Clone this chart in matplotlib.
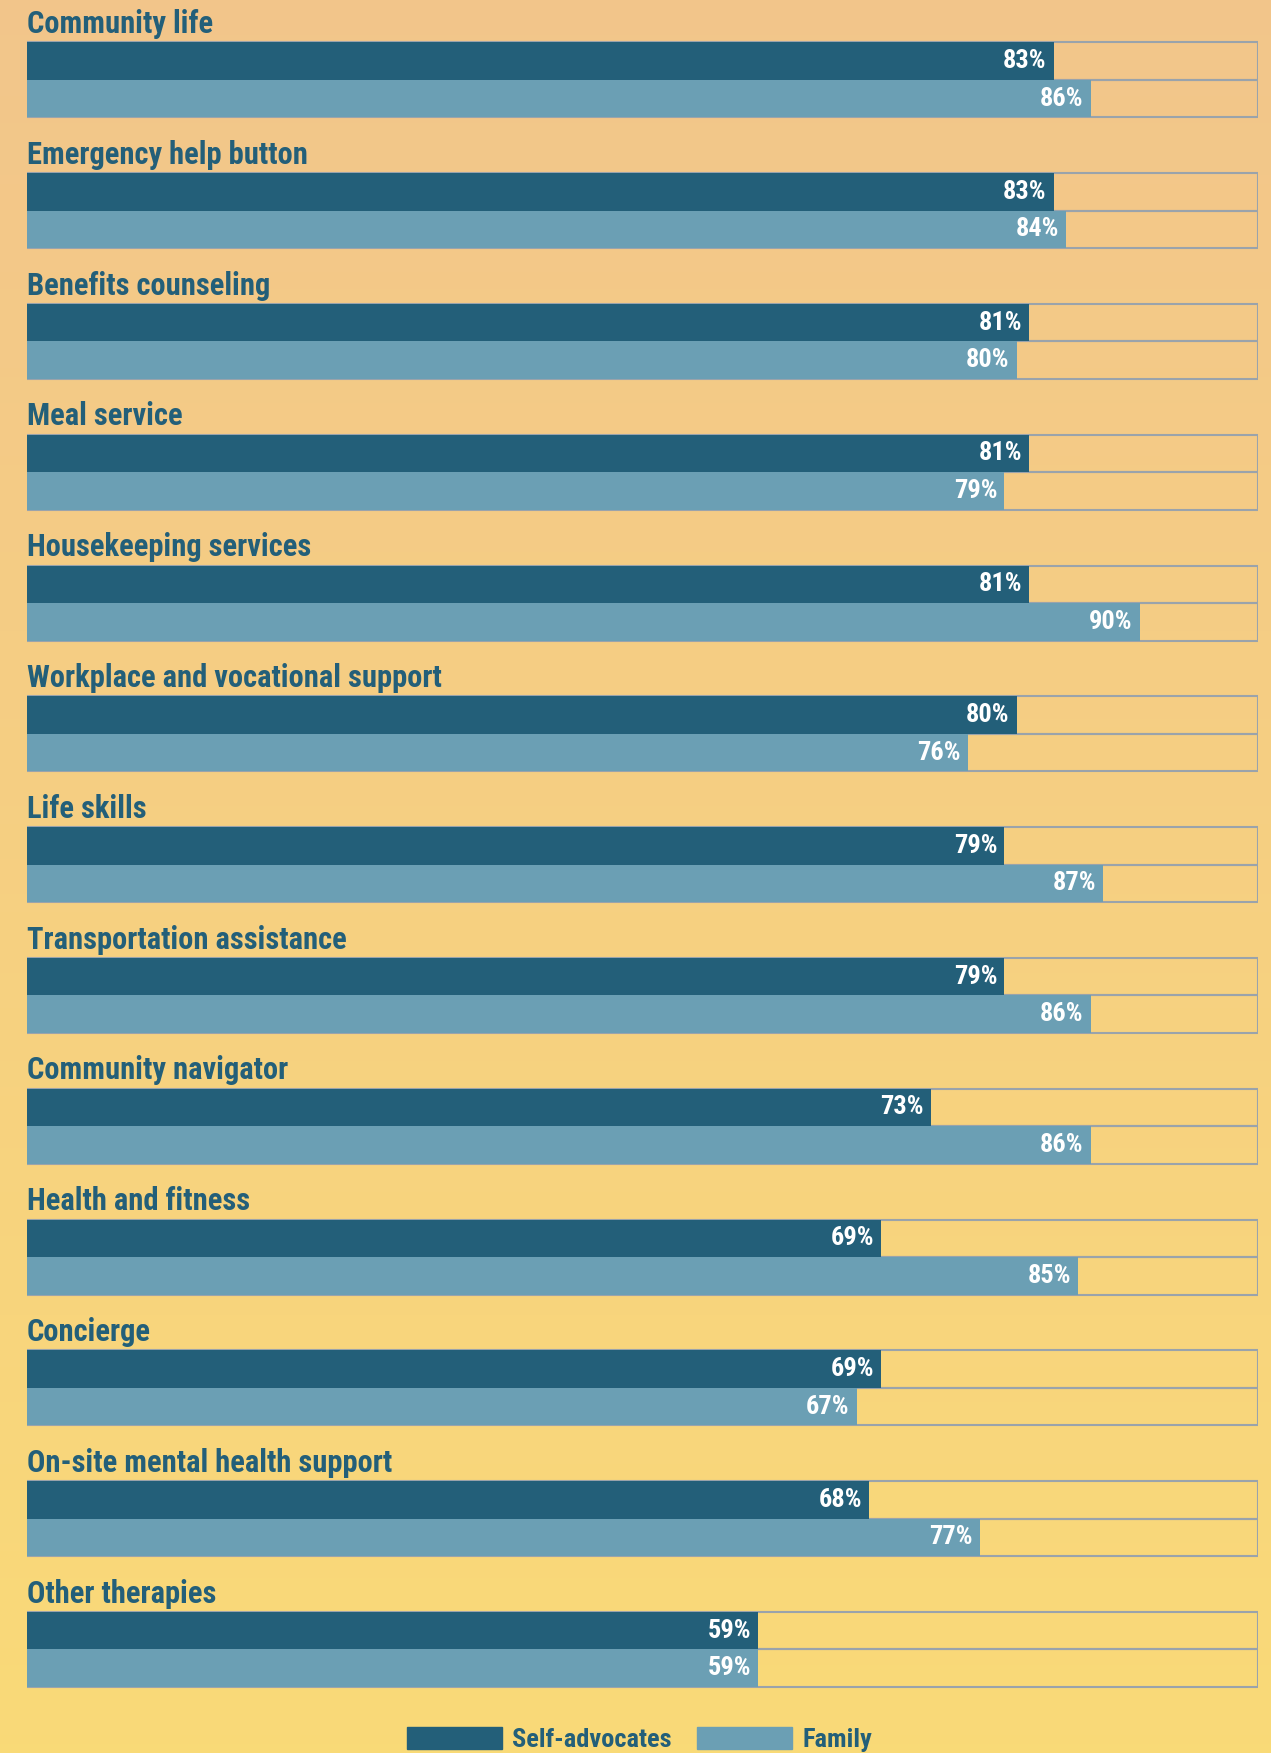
import numpy as np
import matplotlib
matplotlib.use("Agg")
import matplotlib.pyplot as plt
from matplotlib import font_manager
from matplotlib.patches import Patch

categories = ["Community life", "Emergency help button", "Benefits counseling",
              "Meal service", "Housekeeping services", "Workplace and vocational support",
              "Life skills", "Transportation assistance", "Community navigator",
              "Health and fitness", "Concierge", "On-site mental health support",
              "Other therapies"]
self_adv = [83, 83, 81, 81, 81, 80, 79, 79, 73, 69, 69, 68, 59]
family = [86, 84, 80, 79, 90, 76, 87, 86, 86, 85, 67, 77, 59]
series_names = ["Self-advocates", "Family"]

DARK = "#235f79"
LIGHT = "#6b9fb4"
EDGE = "#9aa3ab"

# pick a narrow bold face if there is one
names = {f.name for f in font_manager.fontManager.ttflist}
font = "Roboto"
for cand in ["Roboto Condensed", "Liberation Sans Narrow", "DejaVu Sans Condensed"]:
    if cand in names:
        font = cand
        break
plt.rcParams["font.family"] = [font, "DejaVu Sans"]

W, H = 1271, 1753
fig = plt.figure(figsize=(W / 100, H / 100), dpi=100)

# paper-ish background: orange at the top, yellow toward the bottom
bg = fig.add_axes([0, 0, 1, 1], zorder=-5)
top = np.array([0.950, 0.775, 0.545])
bot = np.array([0.980, 0.855, 0.470])
t = np.linspace(0, 1, 200)[:, None, None]
grad = top * (1 - t) + bot * t
grad = np.repeat(grad, 4, axis=1)
bg.imshow(grad, aspect="auto", extent=[0, 1, 0, 1], origin="upper")
bg.axis("off")

# main axes: y measured in group units (one group = 130.8 px)
step = 130.8
x0, x1 = 26.5, 1258
ax = fig.add_axes([x0 / W, 0, (x1 - x0) / W, 1])
xmin, xmax = -0.45, 99.6
ax.set_xlim(xmin, xmax)
ax.set_ylim(H / step, 0)
ax.axis("off")
ax.patch.set_alpha(0)

first = 42.3 / step
bh = 37.5 / step
n = len(categories)
tops = first + np.arange(n)
span = xmax - xmin

# outline boxes behind each bar
ax.barh(tops, [span] * n, left=xmin, height=bh, align="edge", color="none",
        edgecolor=EDGE, linewidth=1.5, zorder=1)
ax.barh(tops + bh, [span] * n, left=xmin, height=bh, align="edge", color="none",
        edgecolor=EDGE, linewidth=1.5, zorder=1)
ax.barh(tops, np.array(self_adv) - xmin, left=xmin, height=bh, align="edge",
        color=DARK, linewidth=0, zorder=2)
ax.barh(tops + bh, np.array(family) - xmin, left=xmin, height=bh, align="edge",
        color=LIGHT, linewidth=0, zorder=2)

pad = 7 / (1231.5 / span)
for i in range(n):
    ax.text(xmin, tops[i] - 9.3 / step, categories[i], ha="left", va="baseline",
            fontsize=22, fontweight="bold", color=DARK)
    ax.text(self_adv[i] - pad, tops[i] + bh / 2, "%d%%" % self_adv[i],
            ha="right", va="center", fontsize=19, fontweight="bold",
            color="white", zorder=3)
    ax.text(family[i] - pad, tops[i] + 1.5 * bh, "%d%%" % family[i],
            ha="right", va="center", fontsize=19, fontweight="bold",
            color="white", zorder=3)

handles = [Patch(color=DARK), Patch(color=LIGHT)]
leg = fig.legend(handles, series_names, loc="lower center", bbox_to_anchor=(0.503, 0.0),
                 ncol=2, frameon=False, fontsize=19, handlelength=3.6,
                 handleheight=0.9, handletextpad=0.4, columnspacing=0.95,
                 borderpad=0.05, borderaxespad=0)
for txt in leg.get_texts():
    txt.set_color(DARK)
    txt.set_fontweight("bold")

fig.savefig("out.png", dpi=100)
